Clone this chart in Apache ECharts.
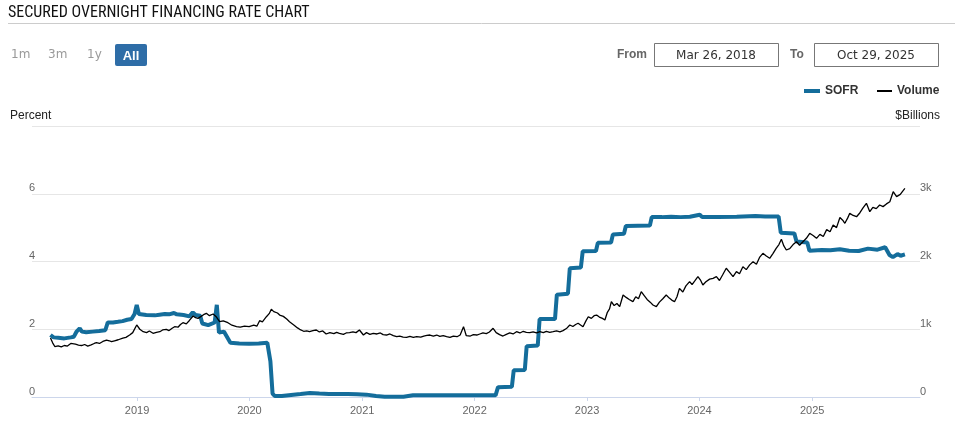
<!DOCTYPE html>
<html><head><meta charset="utf-8">
<script src="https://cdn.jsdelivr.net/npm/echarts@6/dist/echarts.min.js"></script>
<style>html,body{margin:0;padding:0;background:#fff}#c{width:955px;height:426px}</style>
</head><body><div id="c"></div>
<script>
// ---- data ----
const sofrSeries = [
['2018-03-26',1.83],['2018-04-05',1.76],['2018-04-20',1.75],['2018-05-10',1.73],['2018-05-31',1.76],['2018-06-10',1.78],
['2018-06-18',1.92],['2018-06-29',2.03],['2018-07-06',1.93],['2018-07-20',1.91],['2018-08-10',1.93],['2018-08-31',1.95],
['2018-09-20',1.97],['2018-09-28',2.20],['2018-10-15',2.20],['2018-10-31',2.22],['2018-11-15',2.24],['2018-11-30',2.28],
['2018-12-14',2.30],['2018-12-24',2.45],['2018-12-31',2.72],['2019-01-07',2.45],['2019-01-31',2.42],['2019-02-28',2.41],
['2019-03-15',2.43],['2019-04-01',2.45],['2019-04-15',2.44],['2019-05-01',2.48],['2019-05-10',2.44],['2019-06-01',2.42],
['2019-06-20',2.38],['2019-07-01',2.50],['2019-07-10',2.42],['2019-07-25',2.40],['2019-08-01',2.17],['2019-08-20',2.12],
['2019-09-10',2.20],['2019-09-17',2.72],['2019-09-24',1.90],['2019-10-10',1.93],['2019-10-31',1.60],['2019-11-29',1.58],
['2019-12-31',1.57],['2020-01-31',1.58],['2020-02-28',1.60],['2020-03-02',1.60],['2020-03-09',1.05],['2020-03-16',0.10],
['2020-03-23',0.03],['2020-04-15',0.03],['2020-05-15',0.06],['2020-06-15',0.09],['2020-07-15',0.12],['2020-08-15',0.10],
['2020-09-15',0.09],['2020-10-15',0.09],['2020-11-15',0.09],['2020-12-15',0.08],['2021-01-15',0.07],['2021-02-15',0.03],
['2021-03-15',0.01],['2021-04-15',0.01],['2021-05-15',0.01],['2021-06-15',0.05],['2021-09-15',0.05],['2021-12-15',0.05],
['2022-03-10',0.05],['2022-03-18',0.29],['2022-05-02',0.30],['2022-05-08',0.79],['2022-06-13',0.80],['2022-06-19',1.50],
['2022-07-25',1.52],['2022-07-31',2.30],['2022-09-19',2.30],['2022-09-25',3.02],['2022-10-31',3.05],['2022-11-06',3.80],
['2022-12-12',3.82],['2022-12-18',4.30],['2023-01-30',4.31],['2023-02-05',4.55],['2023-03-20',4.56],['2023-03-26',4.80],
['2023-05-01',4.82],['2023-05-07',5.05],['2023-07-24',5.06],['2023-07-30',5.31],['2023-09-01',5.31],['2023-10-01',5.32],
['2023-11-01',5.31],['2023-12-01',5.32],['2024-01-02',5.38],['2024-01-10',5.31],['2024-03-01',5.31],['2024-05-01',5.32],
['2024-07-01',5.34],['2024-08-01',5.33],['2024-09-14',5.33],['2024-09-21',4.85],['2024-11-04',4.83],['2024-11-11',4.59],
['2024-12-16',4.56],['2024-12-23',4.32],['2025-02-01',4.34],['2025-03-01',4.33],['2025-04-01',4.36],['2025-05-01',4.32],
['2025-06-01',4.31],['2025-07-01',4.38],['2025-08-01',4.35],['2025-08-26',4.42],['2025-09-09',4.19],['2025-09-20',4.13],
['2025-10-05',4.22],['2025-10-15',4.17],['2025-10-29',4.21]
];
const volumeSeries = [
['2018-03-26',870],['2018-04-02',800],['2018-04-09',745],['2018-04-20',755],['2018-04-30',740],['2018-05-10',760],['2018-05-20',752],
['2018-05-31',790],['2018-06-05',816],['2018-06-15',780],['2018-06-25',767],['2018-07-05',760],['2018-07-15',775],['2018-07-25',752],
['2018-08-05',770],['2018-08-15',790],['2018-08-22',801],['2018-09-01',790],['2018-09-12',820],['2018-09-24',841],['2018-10-03',830],
['2018-10-10',816],['2018-10-20',830],['2018-11-01',845],['2018-11-06',841],['2018-11-16',870],['2018-11-26',880],['2018-12-08',915],
['2018-12-18',950],['2018-12-31',1063],
['2019-01-10',1000],['2019-01-21',964],['2019-02-01',950],['2019-02-10',975],['2019-02-22',940],['2019-03-05',955],['2019-03-16',964],
['2019-03-25',990],['2019-04-06',999],['2019-04-15',980],['2019-04-25',1015],['2019-05-03',1038],['2019-05-14',1030],['2019-05-22',1070],
['2019-05-30',1097],['2019-06-10',1080],['2019-06-20',1130],['2019-07-02',1196],['2019-07-10',1170],['2019-07-18',1161],['2019-07-28',1190],
['2019-08-05',1215],['2019-08-14',1235],['2019-08-24',1200],['2019-09-05',1225],['2019-09-16',1180],['2019-09-26',1111],['2019-10-08',1125],
['2019-10-23',1097],['2019-11-05',1060],['2019-11-20',1038],['2019-12-02',1030],['2019-12-16',1045],['2019-12-31',1038],
['2020-01-15',1060],['2020-01-25',1045],['2020-02-03',1126],['2020-02-12',1110],['2020-02-25',1185],['2020-03-05',1230],['2020-03-12',1294],
['2020-03-20',1260],['2020-04-01',1240],['2020-04-08',1210],['2020-04-20',1190],['2020-05-01',1150],['2020-05-10',1111],['2020-05-25',1060],
['2020-06-05',1020],['2020-06-12',999],['2020-06-25',970],['2020-07-05',975],['2020-07-14',964],['2020-07-25',980],['2020-08-05',989],
['2020-08-15',960],['2020-08-26',975],['2020-09-06',930],['2020-09-18',950],['2020-10-01',935],['2020-10-10',955],['2020-10-19',940],
['2020-11-01',925],['2020-11-10',945],['2020-11-21',949],['2020-12-02',960],['2020-12-12',950],['2020-12-23',989],
['2021-01-05',915],['2021-01-15',950],['2021-01-26',925],['2021-02-06',940],['2021-02-18',930],['2021-03-01',945],['2021-03-10',920],
['2021-03-21',915],['2021-04-01',930],['2021-04-12',905],['2021-04-23',890],['2021-05-03',900],['2021-05-14',885],['2021-05-25',881],
['2021-06-05',895],['2021-06-16',880],['2021-06-27',890],['2021-07-10',885],['2021-07-20',900],['2021-07-30',910],['2021-08-09',915],
['2021-08-20',900],['2021-08-31',915],['2021-09-10',895],['2021-09-21',905],['2021-10-02',890],['2021-10-13',881],['2021-10-24',900],
['2021-11-05',890],['2021-11-15',915],['2021-11-26',1038],['2021-12-05',905],['2021-12-18',900],['2021-12-28',920],
['2022-01-08',915],['2022-01-18',930],['2022-01-28',945],['2022-02-08',935],['2022-02-18',960],['2022-03-02',1014],['2022-03-12',950],
['2022-03-23',920],['2022-04-03',900],['2022-04-14',925],['2022-04-25',945],['2022-05-06',930],['2022-05-17',964],['2022-05-28',945],
['2022-06-08',970],['2022-06-18',955],['2022-06-29',949],['2022-07-10',960],['2022-07-21',945],['2022-08-01',964],['2022-08-12',950],
['2022-08-22',970],['2022-09-02',955],['2022-09-13',964],['2022-09-24',975],['2022-10-05',960],['2022-10-15',979],['2022-10-26',1010],
['2022-11-06',1063],['2022-11-16',1040],['2022-11-25',1070],['2022-12-03',1088],['2022-12-12',1060],['2022-12-19',1038],['2022-12-28',1120],
['2023-01-05',1185],['2023-01-15',1160],['2023-01-24',1200],['2023-02-01',1210],['2023-02-10',1180],['2023-02-20',1160],['2023-02-28',1137],
['2023-03-08',1250],['2023-03-15',1300],['2023-03-21',1407],['2023-03-30',1350],['2023-04-08',1380],['2023-04-17',1333],['2023-04-28',1506],
['2023-05-08',1470],['2023-05-18',1440],['2023-05-30',1407],['2023-06-08',1480],['2023-06-17',1450],['2023-06-26',1554],['2023-07-05',1500],
['2023-07-15',1440],['2023-07-25',1400],['2023-08-03',1358],['2023-08-14',1333],['2023-08-24',1400],['2023-09-04',1450],['2023-09-15',1506],
['2023-09-25',1460],['2023-10-03',1430],['2023-10-12',1407],['2023-10-20',1480],['2023-10-28',1604],['2023-11-08',1550],['2023-11-18',1640],
['2023-11-30',1702],['2023-12-08',1660],['2023-12-18',1720],['2023-12-27',1776],
['2024-01-05',1720],['2024-01-12',1653],['2024-01-22',1700],['2024-02-03',1740],['2024-02-14',1752],['2024-02-25',1776],['2024-03-06',1720],
['2024-03-16',1800],['2024-03-28',1900],['2024-04-08',1840],['2024-04-19',1776],['2024-04-30',1850],['2024-05-10',1820],['2024-05-21',1923],
['2024-06-01',1880],['2024-06-12',1950],['2024-06-23',1997],['2024-07-04',1960],['2024-07-14',2060],['2024-07-25',2121],['2024-08-05',2080],
['2024-08-16',2047],['2024-08-27',2120],['2024-09-06',2195],['2024-09-15',2250],['2024-09-23',2328],['2024-10-01',2230],['2024-10-09',2170],
['2024-10-20',2190],['2024-10-31',2250],['2024-11-11',2292],['2024-11-21',2240],['2024-12-02',2292],['2024-12-13',2342],['2024-12-24',2416],
['2025-01-05',2380],['2025-01-15',2342],['2025-01-26',2400],['2025-02-06',2370],['2025-02-17',2470],['2025-02-28',2440],['2025-03-10',2539],
['2025-03-21',2500],['2025-04-01',2650],['2025-04-10',2610],['2025-04-17',2564],['2025-04-26',2640],['2025-05-03',2711],['2025-05-14',2680],
['2025-05-25',2661],['2025-06-05',2720],['2025-06-15',2790],['2025-06-26',2859],['2025-07-07',2735],['2025-07-17',2800],['2025-07-28',2780],
['2025-08-08',2834],['2025-08-19',2810],['2025-08-30',2850],['2025-09-10',2883],['2025-09-21',3030],['2025-10-02',2957],['2025-10-14',2990],
['2025-10-22',3040],['2025-10-29',3080]
];
const percentTicks = {min: 0, max: 8, interval: 2};
const billionTicks = {min: 0, max: 4000, interval: 1000};
const rangeButtons = ['1m', '3m', '1y', 'All'];
const fromDate = 'Mar 26, 2018';
const toDate = 'Oct 29, 2025';

// ---- chart ----
const chart = echarts.init(document.getElementById('c'), null, {renderer: 'canvas'});
const baseFont = '"Liberation Sans", Arial, sans-serif';
function T(x, y, text, fill, font, align) {
  return {type: 'text', x: x, y: y, silent: true,
    style: {text: text, fill: fill, font: font, align: align || 'left', verticalAlign: 'middle',
            textAlign: align || 'left', textVerticalAlign: 'middle'}};
}
const graphics = [
  T(8, 13, 'SECURED OVERNIGHT FINANCING RATE CHART', '#111', '16px "Liberation Sans Narrow", "Arial Narrow", "Roboto Condensed", sans-serif'),
  {type: 'line', silent: true, shape: {x1: 8, y1: 23.5, x2: 955, y2: 23.5}, style: {stroke: '#cccccc', lineWidth: 1}},
  T(11, 55, rangeButtons[0], '#999', '12px "DejaVu Sans", sans-serif'),
  T(48, 55, rangeButtons[1], '#999', '12px "DejaVu Sans", sans-serif'),
  T(87, 55, rangeButtons[2], '#999', '12px "DejaVu Sans", sans-serif'),
  {type: 'rect', silent: true, shape: {x: 115, y: 44, width: 32, height: 22, r: 2}, style: {fill: '#2e6da7'}},
  T(131, 56, rangeButtons[3], '#fff', 'bold 13px ' + baseFont, 'center'),
  T(617, 55, 'From', '#666', 'bold 12px ' + baseFont),
  {type: 'rect', silent: true, shape: {x: 654.5, y: 43.5, width: 124, height: 23}, style: {fill: '#fff', stroke: '#777', lineWidth: 1}},
  T(716, 56, fromDate, '#333', '12px "DejaVu Sans", sans-serif', 'center'),
  T(790, 55, 'To', '#666', 'bold 12px ' + baseFont),
  {type: 'rect', silent: true, shape: {x: 814.5, y: 43.5, width: 124, height: 23}, style: {fill: '#fff', stroke: '#777', lineWidth: 1}},
  T(876, 56, toDate, '#333', '12px "DejaVu Sans", sans-serif', 'center'),
  T(10, 116, 'Percent', '#222', '12px ' + baseFont),
  T(940, 116, '$Billions', '#222', '12px ' + baseFont, 'right')
];

const YEAR = 365.25 * 24 * 3600 * 1000;
chart.setOption({
  animation: false,
  backgroundColor: '#fff',
  graphic: graphics,
  legend: [
    {data: ['SOFR'], left: 799, top: 80, itemWidth: 16, itemHeight: 4, icon: 'rect', itemGap: 0,
     textStyle: {fontWeight: 'bold', fontSize: 12, color: '#333', fontFamily: baseFont}},
    {data: ['Volume'], left: 872, top: 80, itemWidth: 15, itemHeight: 2, icon: 'rect', itemGap: 0,
     textStyle: {fontWeight: 'bold', fontSize: 12, color: '#333', fontFamily: baseFont}}
  ],
  grid: {left: 32, right: 35, top: 126, bottom: 29, containLabel: false},
  xAxis: {
    type: 'time',
    min: '2018-01-25', max: '2025-12-17',
    minInterval: YEAR * 0.99, maxInterval: YEAR * 1.01, splitNumber: 8,
    axisLine: {show: true, lineStyle: {color: '#ccd6eb', width: 1}},
    axisTick: {show: true, length: 4, lineStyle: {color: '#ccd6eb'}},
    splitLine: {show: false},
    axisLabel: {color: '#666', fontSize: 11, fontFamily: baseFont, margin: 8,
      formatter: function (v) { return String(new Date(v).getFullYear()); },
      showMinLabel: false, showMaxLabel: false}
  },
  yAxis: [
    {type: 'value', position: 'left', min: percentTicks.min, max: percentTicks.max, interval: percentTicks.interval,
     axisLine: {show: false}, axisTick: {show: false},
     splitLine: {show: true, lineStyle: {color: '#e6e6e6', width: 1}},
     axisLabel: {inside: true, margin: -3, verticalAlign: 'bottom', lineHeight: 11, color: '#666', fontSize: 11, fontFamily: baseFont,
       formatter: function (v) { return v === percentTicks.max ? '' : String(v); }}},
    {type: 'value', position: 'right', min: billionTicks.min, max: billionTicks.max, interval: billionTicks.interval,
     axisLine: {show: false}, axisTick: {show: false}, splitLine: {show: false},
     axisLabel: {inside: false, margin: 0, verticalAlign: 'bottom', lineHeight: 11, color: '#666', fontSize: 11, fontFamily: baseFont,
       formatter: function (v) { return v === billionTicks.max ? '' : (v === 0 ? '0' : (v / 1000) + 'k'); }}}
  ],
  series: [
    {name: 'SOFR', type: 'line', yAxisIndex: 0, data: sofrSeries, showSymbol: false, symbol: 'none',
     lineStyle: {color: '#146d9b', width: 4}, itemStyle: {color: '#146d9b'}, z: 2},
    {name: 'Volume', type: 'line', yAxisIndex: 1, data: volumeSeries, showSymbol: false, symbol: 'none',
     lineStyle: {color: '#000', width: 1.3}, itemStyle: {color: '#000'}, z: 3}
  ]
});
</script>
</body></html>
